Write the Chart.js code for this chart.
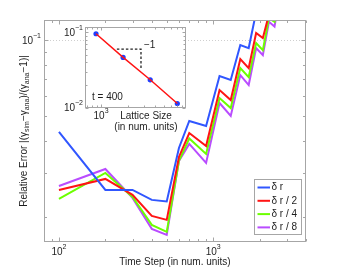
<!DOCTYPE html>
<html><head><meta charset="utf-8">
<script src="https://cdn.jsdelivr.net/npm/chart.js@4.4.1/dist/chart.umd.min.js"></script>
<style>
html,body{margin:0;padding:0;background:#fff;}
#wrap{position:relative;width:338px;height:272px;overflow:hidden;}
#main{position:absolute;left:0;top:0;}
#inset{position:absolute;left:60px;top:14px;}
</style></head><body>
<div id="wrap"><canvas id="main" width="338" height="272"></canvas><canvas id="inset" width="130" height="122"></canvas></div>
<script>
// ---------- main chart data ----------
const timeSteps = [100,200,300,400,500,600,700,900,1100,1300,1500,1700,1900,2100,2300,2500,2700];
const errDr  = [0.04343,0.02566,0.02566,0.02345,0.02313,0.03757,0.04798,0.04585,0.07215,0.06959,0.09557,0.09301,0.1289,0.1254,0.172,0.166,0.22];
const errDr2 = [0.02566,0.02836,0.02454,0.02028,0.01956,0.03462,0.04303,0.03826,0.06356,0.05803,0.08418,0.07757,0.1066,0.1018,0.126,0.123,0.16];
const errDr4 = [0.02366,0.02995,0.02409,0.01869,0.01754,0.0334,0.04095,0.03557,0.05909,0.05397,0.07757,0.07149,0.09732,0.09134,0.122,0.118,0.15];
const errDr8 = [0.02661,0.03105,0.02388,0.01803,0.01707,0.0334,0.03896,0.0328,0.05649,0.05022,0.0728,0.06648,0.09301,0.08727,0.118,0.113,0.15];
const seriesLabels = ['δ r','δ r / 2','δ r / 4','δ r / 8'];
const seriesColors = ['#3056ff','#ff1414','#6cff00','#b94cff'];
const xMinorTicks = [90,100,200,300,400,500,600,700,800,900,1000,2000,3000,4000];
const xMajorTicks = [100,1000];
const xTickLabels = [['10','2'],['10','3']];
const yMinorTicks = [0.02,0.03,0.04,0.05,0.06,0.07,0.08,0.09,0.1];
const yMajorTicks = [0.1];
const yTickLabels = [['10','−1']];

// ---------- inset data ----------
const latticeSize = [880,1760,3520,7040];
const latticeErr  = [0.0961,0.0465,0.0234,0.0113];
const slopeTriX = [1500,2780,2780];
const slopeTriY = [0.060,0.060,0.0316];
const insetXMinor = [700,800,900,1000,2000,3000,4000,5000,6000,7000,8000];
const insetXMajor = [1000];
const insetXLabels = [['10','3']];
const insetYMinor = [0.01,0.02,0.03,0.04,0.05,0.06,0.07,0.08,0.09,0.1];
const insetYMajor = [0.01,0.1];
const insetYLabels = [['10','−2'],['10','−1']];

const FONT = '"Liberation Sans", Arial, sans-serif';
const TEXT = '#1e1e1e';
const AXIS = '#a6a6a6';
function font(px){return px+'px '+FONT;}
function drawPow(ctx, base, exp, x, y, align){
  ctx.font=font(10); const w1=ctx.measureText(base).width;
  ctx.font=font(7); const w2=ctx.measureText(exp).width;
  const tot=w1+w2;
  const left = align==='right'? x-tot : (align==='left'? x : x-tot/2);
  ctx.textAlign='left'; ctx.textBaseline='middle'; ctx.fillStyle=TEXT;
  ctx.font=font(10); ctx.fillText(base,left,y);
  ctx.font=font(7); ctx.fillText(exp,left+w1,y-5);
}
function seg(ctx,x1,y1,x2,y2){ctx.beginPath();ctx.moveTo(x1,y1);ctx.lineTo(x2,y2);ctx.stroke();}

function decor(o){
  return {
    id:'decor',
    beforeDatasetsDraw(chart){
      const {ctx, chartArea:a} = chart; const sx=chart.scales.x, sy=chart.scales.y;
      ctx.save();
      if(o.fill){ctx.fillStyle='#fff';ctx.fillRect(a.left,a.top,a.right-a.left,a.bottom-a.top);}
      if(o.grid){
        ctx.strokeStyle='#cfcfcf'; ctx.lineWidth=1; ctx.setLineDash([1,2]);
        o.xGrid.forEach(v=>{const p=Math.round(sx.getPixelForValue(v))+0.5; seg(ctx,p,a.top,p,a.bottom);});
        o.yGrid.forEach(v=>{const p=Math.round(sy.getPixelForValue(v))+0.5; seg(ctx,a.left,p,a.right,p);});
      }
      ctx.restore();
    },
    afterDatasetsDraw(chart){
      const {ctx, chartArea:a} = chart; const sx=chart.scales.x, sy=chart.scales.y;
      ctx.save();
      ctx.strokeStyle=AXIS; ctx.lineWidth=1;
      const L=Math.round(a.left)+0.5, R=Math.round(a.right)-0.5, T=Math.round(a.top)+0.5, B=Math.round(a.bottom)-0.5;
      ctx.strokeRect(L,T,R-L,B-T);
      o.xMinor.forEach(v=>{const p=Math.round(sx.getPixelForValue(v))+0.5; const len=o.xMajor.includes(v)?o.maj:o.min;
        seg(ctx,p,B,p,B-len); seg(ctx,p,T,p,T+len);});
      o.yMinor.forEach(v=>{const p=Math.round(sy.getPixelForValue(v))+0.5; const len=o.yMajor.includes(v)?o.maj:o.min;
        seg(ctx,L,p,L+len,p); seg(ctx,R,p,R-len,p);});
      o.xMajor.forEach((v,i)=>{drawPow(ctx,o.xLabels[i][0],o.xLabels[i][1],sx.getPixelForValue(v)+o.xlOff,a.bottom+o.xlDy,'center');});
      o.yMajor.forEach((v,i)=>{drawPow(ctx,o.yLabels[i][0],o.yLabels[i][1],a.left-o.ylDx,sy.getPixelForValue(v)+1,'right');});
      if(o.extra) o.extra(chart,ctx);
      ctx.restore();
    }
  };
}

function mainExtra(chart,ctx){
  const a=chart.chartArea;
  ctx.fillStyle=TEXT; ctx.textBaseline='middle'; ctx.textAlign='center';
  ctx.font=font(10);
  ctx.fillText('Time Step (in num. units)',(a.left+a.right)/2,262);
  const parts=[['Relative Error |(γ',0],['sim',1],['−γ',0],['ana',1],[')/(γ',0],['ana',1],['−1)|',0]];
  let total=0;
  parts.forEach(p=>{ctx.font=font(p[1]?7:10); p.w=ctx.measureText(p[0]).width; total+=p.w;});
  ctx.save();
  ctx.translate(24,(a.top+a.bottom)/2);
  ctx.rotate(-Math.PI/2);
  ctx.textAlign='left';
  let xx=-total/2;
  parts.forEach(p=>{ctx.font=font(p[1]?7:10); ctx.fillText(p[0],xx,p[1]?3:0); xx+=p.w;});
  ctx.restore();
  const lx=254.5, ly=179.5, lw=47, lh=55;
  ctx.fillStyle='#fff'; ctx.fillRect(lx,ly,lw,lh);
  ctx.strokeStyle=AXIS; ctx.lineWidth=1; ctx.strokeRect(lx,ly,lw,lh);
  chart.data.datasets.forEach((ds,i)=>{
    const yy=187.5+i*13.3;
    ctx.strokeStyle=ds.borderColor; ctx.lineWidth=2;
    seg(ctx,257.5,yy,270,yy);
    ctx.fillStyle=TEXT; ctx.font=font(10); ctx.textAlign='left'; ctx.textBaseline='middle';
    ctx.fillText(ds.label,271.5,yy);
  });
}

function mk(xs,ys){return xs.map((x,i)=>({x:x,y:ys[i]}));}
const allSeries=[errDr,errDr2,errDr4,errDr8];

new Chart(document.getElementById('main'),{
  type:'line',
  data:{datasets: allSeries.map((s,i)=>({label:seriesLabels[i],data:mk(timeSteps,s),borderColor:seriesColors[i],
    borderWidth:2,pointRadius:0,tension:0,fill:false,clip:0}))},
  options:{
    responsive:false, animation:false, devicePixelRatio:1,
    layout:{padding:{left:44,right:32,top:20,bottom:30}},
    plugins:{legend:{display:false},tooltip:{enabled:false}},
    scales:{
      x:{type:'logarithmic',min:80,max:4000,display:false},
      y:{type:'logarithmic',min:0.016,max:0.12,display:false}
    }
  },
  plugins:[decor({fill:false,grid:true,xGrid:[],yGrid:yMajorTicks,xMinor:xMinorTicks,xMajor:xMajorTicks,
    yMinor:yMinorTicks,yMajor:yMajorTicks,xLabels:xTickLabels,yLabels:yTickLabels,maj:4,min:2.5,xlOff:0,xlDy:10.5,ylDx:3,extra:mainExtra})]
});

function insetExtra(chart,ctx){
  ctx.fillStyle=TEXT; ctx.textBaseline='middle'; ctx.font=font(10);
  ctx.textAlign='center';
  ctx.fillText('Lattice Size',86,102);
  ctx.fillText('(in num. units)',86,113);
  ctx.textAlign='left';
  ctx.fillText('t = 400',32,83);
  ctx.fillText('−1',84,31);
}

new Chart(document.getElementById('inset'),{
  type:'line',
  data:{datasets:[
    {label:'slope',data:mk(slopeTriX,slopeTriY),borderColor:'#222',borderWidth:1.3,borderDash:[2.5,2],pointRadius:0,tension:0,fill:false},
    {label:'fit',data:mk(latticeSize,latticeErr),borderColor:'#ff1414',borderWidth:1.5,pointRadius:0,tension:0,fill:false},
    {label:'sim',data:mk(latticeSize,latticeErr),showLine:false,pointRadius:2.6,pointBackgroundColor:'#1f3dff',pointBorderColor:'#1f3dff',pointBorderWidth:0}
  ]},
  options:{
    responsive:false, animation:false, devicePixelRatio:1,
    layout:{padding:{left:25,right:4,top:12.5,bottom:28.5}},
    plugins:{legend:{display:false},tooltip:{enabled:false}},
    scales:{
      x:{type:'logarithmic',min:664,max:8790,display:false},
      y:{type:'logarithmic',min:0.01,max:0.12,display:false}
    }
  },
  plugins:[decor({fill:true,grid:false,xMinor:insetXMinor,xMajor:insetXMajor,yMinor:insetYMinor,yMajor:insetYMajor,
    xLabels:insetXLabels,yLabels:insetYLabels,maj:3,min:2,xlOff:0,xlDy:8.5,ylDx:2,extra:insetExtra})]
});
</script>
</body></html>
